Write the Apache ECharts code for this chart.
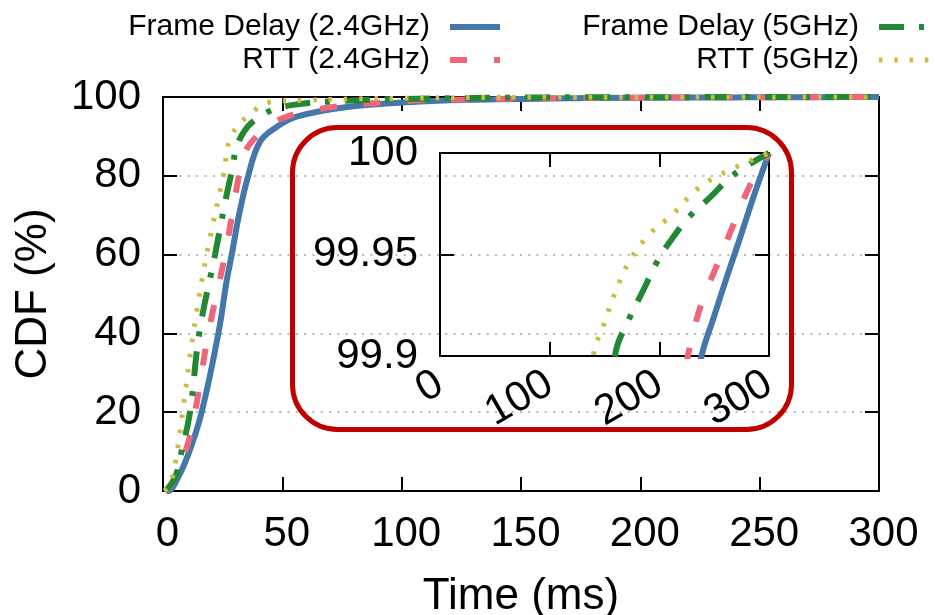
<!DOCTYPE html>
<html>
<head>
<meta charset="utf-8">
<script src="https://cdn.jsdelivr.net/npm/echarts@6/dist/echarts.min.js"></script>
<style>
html,body{margin:0;padding:0;background:#fff;}
#chart{width:935px;height:615px;}
</style>
</head>
<body>
<div id="chart"></div>
<script>
// ---- data ----
const seriesNames = ['Frame Delay (2.4GHz)', 'RTT (2.4GHz)', 'Frame Delay (5GHz)', 'RTT (5GHz)'];

const fd24Time = [1.5, 2.2, 5.7, 10.6, 16.2, 23.2, 26.7, 28.8, 32, 35.7, 40.6, 47.6, 56, 78, 106, 130, 160, 200, 238.5, 249, 261, 273.5, 285.6, 300];
const fd24Cdf  = [0, 0, 2.7, 9.3, 20, 40, 53.4, 60, 70.5, 80, 88.6, 92.4, 95, 97.5, 98.8, 99.3, 99.6, 99.8, 99.9, 99.918, 99.938, 99.958, 99.978, 100];

const rtt24Time = [1.5, 3.6, 9.9, 13.4, 19, 26, 31.8, 34.4, 40, 46.2, 63, 98, 130, 170, 200, 226, 238.5, 252, 267, 282.6, 300];
const rtt24Cdf  = [0, 1.7, 11, 20, 40, 60, 80, 86.1, 90.5, 93.6, 96.7, 98.8, 99.4, 99.7, 99.83, 99.9, 99.926, 99.944, 99.964, 99.984, 100];

const fd5Time = [1, 5, 7.5, 11.3, 15.2, 21.8, 28.4, 33, 42.7, 54.6, 75, 100, 130, 159.5, 173, 185, 197.5, 208, 228, 246, 267, 300];
const fd5Cdf  = [0, 3.4, 9.3, 20, 40, 60, 80, 90.3, 95.8, 98, 99, 99.5, 99.75, 99.9, 99.919, 99.932, 99.946, 99.955, 99.969, 99.978, 99.989, 100];

const rtt5Time = [0.5, 2.9, 5.3, 8.2, 12.7, 18.3, 25.3, 28.8, 38.5, 44.8, 60, 80, 110, 139.8, 150.4, 161, 173, 191, 212.7, 234, 258, 300];
const rtt5Cdf  = [0, 1.7, 7.6, 20, 40, 60, 80, 90.3, 96.7, 98.7, 99.2, 99.5, 99.75, 99.9, 99.917, 99.933, 99.947, 99.96, 99.97, 99.982, 99.99, 100];

const mainXTicks = [0, 50, 100, 150, 200, 250, 300];
const mainYTicks = [0, 20, 40, 60, 80, 100];
const insetXTicks = [0, 100, 200, 300];
const insetYTicks = [99.9, 99.95, 100];

// ---- styles ----
const FONT = '"Liberation Sans", Arial, sans-serif';
const colors = ['#4477aa', '#ee6677', '#228833', '#ccbb44'];
const widths = [6, 6, 6, 5];
const dashes = ['solid', [17, 27], [25, 15, 5, 15], [3.5, 11.8]];

function zip(t, c) { return t.map((v, i) => [v, c[i]]); }
const allData = [zip(fd24Time, fd24Cdf), zip(rtt24Time, rtt24Cdf), zip(fd5Time, fd5Cdf), zip(rtt5Time, rtt5Cdf)];

const chart = echarts.init(document.getElementById('chart'), null, {renderer: 'canvas'});

const axisLineStyle = {color: '#000', width: 2};
function xAx(grid, pos, ticks, showLabel, extra) {
  return Object.assign({
    type: 'value', gridIndex: grid, position: pos,
    min: ticks[0], max: ticks[ticks.length - 1], interval: ticks[1] - ticks[0],
    axisLine: {show: true, onZero: false, lineStyle: axisLineStyle},
    axisTick: {show: true, inside: true, length: 14, lineStyle: {color: '#000', width: 2}},
    axisLabel: {show: showLabel, color: '#000', fontSize: 42, fontFamily: FONT, margin: 22, padding: [0, 0, 0, 9]},
    splitLine: {show: false}
  }, extra || {});
}
function yAx(grid, pos, ticks, showLabel, extra) {
  return Object.assign({
    type: 'value', gridIndex: grid, position: pos,
    min: ticks[0], max: ticks[ticks.length - 1], interval: ticks[1] - ticks[0],
    axisLine: {show: true, onZero: false, lineStyle: axisLineStyle},
    axisTick: {show: true, inside: true, length: 14, lineStyle: {color: '#000', width: 2}},
    axisLabel: {show: showLabel, color: '#000', fontSize: 42, fontFamily: FONT, margin: 22},
    splitLine: {show: false}
  }, extra || {});
}

const series = [];
[0, 1].forEach(function (g) {
  seriesNames.forEach(function (name, i) {
    series.push({
      name: name, type: 'line',
      xAxisIndex: g === 0 ? 0 : 2, yAxisIndex: g === 0 ? 0 : 2,
      data: allData[i], symbol: 'none', showSymbol: false,
      smooth: 0.4, clip: true,
      lineStyle: {color: colors[i], width: widths[i], type: dashes[i], cap: 'butt'},
      itemStyle: {color: colors[i]},
      z: 3 + i, silent: true
    });
  });
});

function legendItem(i) {
  return {
    name: seriesNames[i],
    lineStyle: {width: widths[i], type: dashes[i], color: colors[i]},
    itemStyle: {opacity: 0, borderWidth: 0, color: 'rgba(0,0,0,0)'}
  };
}
const legendCommon = {
  orient: 'vertical', align: 'right', top: 12, itemWidth: 50, itemHeight: 30, itemGap: 3,
  padding: 0, selectedMode: false,
  itemStyle: {opacity: 0, borderWidth: 0},
  textStyle: {fontSize: 30, fontFamily: FONT, color: '#000', padding: [0, 15, 0, 0], lineHeight: 30}
};

const option = {
  animation: false,
  backgroundColor: '#fff',
  grid: [
    {left: 163, top: 97, width: 716, height: 394, containLabel: false, outerBoundsMode: 'none'},
    {left: 440, top: 153, width: 329, height: 203, containLabel: false, outerBoundsMode: 'none'}
  ],
  legend: [
    Object.assign({}, legendCommon, {right: 432, data: [legendItem(0), legendItem(1)]}),
    Object.assign({}, legendCommon, {right: 3, data: [legendItem(2), legendItem(3)]})
  ],
  xAxis: [
    xAx(0, 'bottom', mainXTicks, true, {
      name: 'Time (ms)', nameLocation: 'middle', nameGap: 84,
      nameTextStyle: {fontSize: 44, fontFamily: FONT, color: '#000'}
    }),
    xAx(0, 'top', mainXTicks, false),
    xAx(1, 'bottom', insetXTicks, true, {
      axisLabel: {show: true, color: '#000', fontSize: 42, fontFamily: FONT, margin: 25, rotate: 30}
    }),
    xAx(1, 'top', insetXTicks, false)
  ],
  yAxis: [
    yAx(0, 'left', mainYTicks, true, {
      name: 'CDF (%)', nameLocation: 'middle', nameGap: 107,
      nameTextStyle: {fontSize: 44, fontFamily: FONT, color: '#000'},
      splitLine: {show: true, lineStyle: {color: '#a0a0a0', width: 1.5, type: [2, 6.3]}}
    }),
    yAx(0, 'right', mainYTicks, false),
    yAx(1, 'left', insetYTicks, true),
    yAx(1, 'right', insetYTicks, false)
  ],
  graphic: [{
    type: 'rect', z: 1,
    shape: {x: 292.5, y: 127.5, width: 499, height: 302, r: 45},
    style: {fill: 'none', stroke: '#c00000', lineWidth: 5}
  }],
  series: series
};
chart.setOption(option);
</script>
</body>
</html>
